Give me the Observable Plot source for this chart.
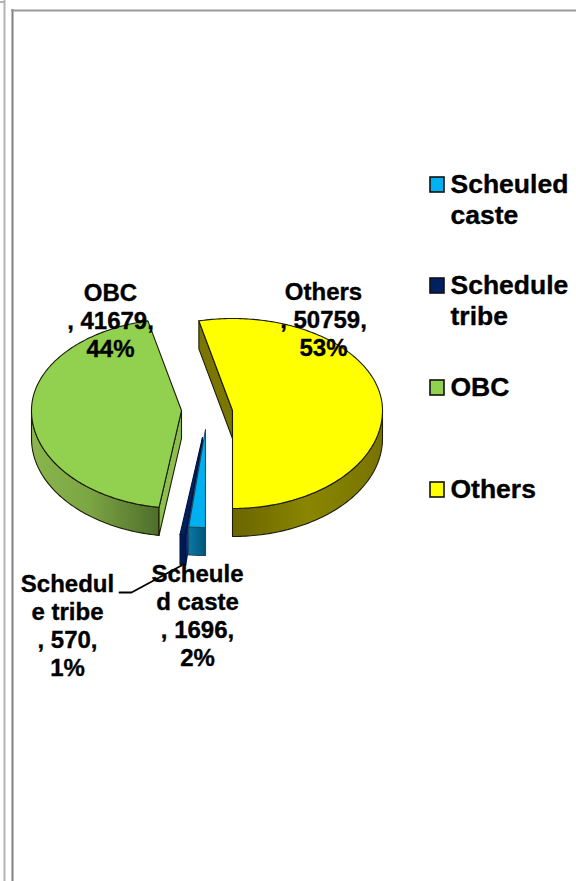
<!DOCTYPE html>
<html>
<head>
<meta charset="utf-8">
<style>
html,body{margin:0;padding:0;background:#fff}
svg{display:block}
</style>
<script src="https://cdn.jsdelivr.net/npm/d3@7"></script>
<script src="https://cdn.jsdelivr.net/npm/@observablehq/plot@0.6"></script>
</head>
<body>
<script>
const categories = ["Scheduled caste", "Schedule tribe", "OBC", "Others"];
const values = [1696, 570, 41679, 50759];
const percents = ["2%", "1%", "44%", "53%"];
const sliceLabels = ["Scheule\nd caste", "Schedul\ne tribe", "OBC\n", "Others\n"];
const legendLabels = ["Scheuled\ncaste", "Schedule\ntribe", "OBC", "Others"];
const topColors = ["#00B0F0", "#002060", "#92D050", "#FFFF00"];

// layout (pixel frame of the picture)
const W = 576, H = 881;
const rx = 150, ryTop = 92, ryBottom = 98;
const centers = [
  {cx: 205, cy: 429, depth: 28},
  {cx: 202, cy: 437, depth: 30},
  {cx: 181, cy: 410, depth: 28},
  {cx: 232, cy: 410, depth: 28}
];
const labelPos = [
  {x: 197, y: 573},
  {x: 67, y: 583},
  {x: 110, y: 292},
  {x: 323, y: 291}
];
const legendPos = [177, 278, 380, 482];
const leader = [{x: 119, y: 592}, {x: 131, y: 592}, {x: 181, y: 565}];

const total = d3.sum(values);
let acc = 180;
const slices = values.map((v, i) => {
  const a0 = acc, a1 = acc + v / total * 360;
  acc = a1;
  return {i, a0, a1, ...centers[i]};
});
const rad = d => d * Math.PI / 180;
const pt = (s, a, dy = 0) => {
  const c = Math.cos(rad(a));
  return {x: s.cx + rx * Math.sin(rad(a)), y: s.cy - (c > 0 ? ryTop : ryBottom) * c + dy};
};
const arcPts = (s, a0, a1, dy = 0) => {
  const n = Math.max(2, Math.ceil(Math.abs(a1 - a0)));
  return d3.range(n + 1).map(k => pt(s, a0 + (a1 - a0) * k / n, dy));
};
const topFace = s => [{x: s.cx, y: s.cy}, ...arcPts(s, s.a0, s.a1), {x: s.cx, y: s.cy}];
const wall = (s, a0, a1) => [...arcPts(s, a0, a1), ...arcPts(s, a1, a0, s.depth), pt(s, a0)];
const cut = (s, a) => [pt(s, a), {x: s.cx, y: s.cy}, {x: s.cx, y: s.cy + s.depth}, pt(s, a, s.depth), pt(s, a)];

const poly = (pts, fill, extra = {}) =>
  Plot.line(pts, {x: "x", y: "y", fill, stroke: "#1c1c08", strokeWidth: 1.1, strokeLinejoin: "round", ...extra});

const [caste, tribe, obc, others] = slices;
const marks = [
  // frame
  Plot.ruleX([4], {y1: 0, y2: H, stroke: "#b4b4b4", strokeWidth: 2}),
  Plot.ruleY([1.5], {x1: 0, x2: 5, stroke: "#b4b4b4", strokeWidth: 2}),
  Plot.ruleX([12], {y1: 9, y2: H, stroke: "#808080", strokeWidth: 2}),
  Plot.ruleY([10], {x1: 11, x2: W, stroke: "#9a9a9a", strokeWidth: 2}),
  // Others
  poly(cut(others, others.a0), "#7A7600"),
  poly(wall(others, 450, 540), "url(#gOthers)"),
  poly(topFace(others), topColors[3]),
  // OBC
  poly(wall(obc, obc.a0, 270), "url(#gObc)"),
  poly(cut(obc, obc.a0), "#8CBF4E"),
  poly(topFace(obc), topColors[2]),
  // tribe
  poly(wall(tribe, tribe.a0, tribe.a1), "#001A50", {stroke: "#00133c"}),
  poly(cut(tribe, tribe.a0), "#0B2F86", {stroke: "#00133c"}),
  poly(topFace(tribe), topColors[1], {stroke: "#00133c"}),
  // caste
  poly(wall(caste, caste.a0, caste.a1), "url(#gCaste)", {stroke: "#1f4a5c"}),
  poly(topFace(caste), topColors[0], {stroke: "#1f4a5c"}),
  // leader
  Plot.line(leader, {x: "x", y: "y", stroke: "#000", strokeWidth: 1.8}),
  // slice labels
  Plot.text(categories.map((c, i) => ({
    text: i >= 2 ? `${sliceLabels[i]}, ${values[i]},\n${percents[i]}` : `${sliceLabels[i]}\n, ${values[i]},\n${percents[i]}`,
    ...labelPos[i]
  })), {
    x: "x", y: "y", text: "text", fontSize: 24, fontWeight: "bold", lineHeight: 1.17,
    fontFamily: "Liberation Sans", fill: "#000", stroke: "#000", strokeWidth: 0.35,
    textAnchor: "middle", lineAnchor: "top", dy: -11.5
  }),
  // legend
  Plot.rect(categories.map((c, i) => ({i, y: legendPos[i]})), {
    x1: () => 430, x2: () => 444, y1: "y", y2: d => d.y + 15,
    fill: d => topColors[d.i], stroke: "#111", strokeWidth: 1.6
  }),
  Plot.text(categories.map((c, i) => ({text: legendLabels[i], y: legendPos[i]})), {
    x: () => 450, y: "y", text: "text", fontSize: 26.5, fontWeight: "bold", lineHeight: 1.2,
    fontFamily: "Liberation Sans", fill: "#000", stroke: "#000", strokeWidth: 0.35,
    textAnchor: "start", lineAnchor: "top", dy: -7.5
  })
];

const chart = Plot.plot({
  width: W, height: H, margin: 0,
  x: {axis: null, type: "linear", domain: [0, W], range: [0, W]},
  y: {axis: null, type: "linear", domain: [0, H], range: [0, H]},
  color: {type: "identity"},
  style: {background: "#fff"},
  marks
});
const grad = (id, stops) =>
  `<linearGradient id="${id}" x1="0" x2="1" y1="0" y2="0">` +
  stops.map(([o, c]) => `<stop offset="${o}" stop-color="${c}"/>`).join("") + `</linearGradient>`;
const defs = document.createElementNS("http://www.w3.org/2000/svg", "defs");
defs.innerHTML =
  grad("gOthers", [[0, "#6B6600"], [0.15, "#736E00"], [0.5, "#8A8600"], [1, "#777300"]]) +
  grad("gObc", [[0, "#8AB64C"], [0.45, "#7CA544"], [1, "#4E6E2A"]]) +
  grad("gCaste", [[0, "#0B78A6"], [1, "#00567A"]]);
chart.insertBefore(defs, chart.firstChild);
document.body.appendChild(chart);
</script>
</body>
</html>
